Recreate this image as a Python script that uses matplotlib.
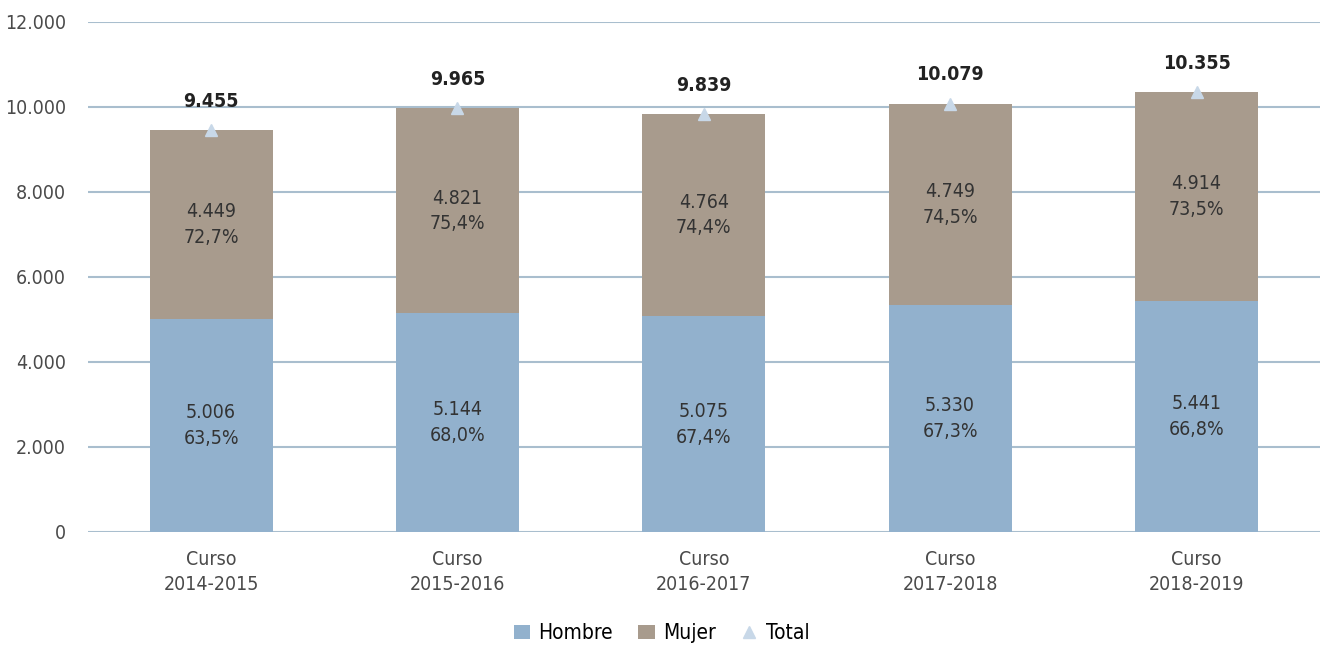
import matplotlib.pyplot as plt
import numpy as np

# ── Data ───────────────────────────────────────────────
cursos = ['Curso\n2014-2015', 'Curso\n2015-2016', 'Curso\n2016-2017',
          'Curso\n2017-2018', 'Curso\n2018-2019']
hombre = [5006, 5144, 5075, 5330, 5441]
mujer = [4449, 4821, 4764, 4749, 4914]
total = [9455, 9965, 9839, 10079, 10355]
pct_hombre = ['63,5%', '68,0%', '67,4%', '67,3%', '66,8%']
pct_mujer = ['72,7%', '75,4%', '74,4%', '74,5%', '73,5%']

plt.rcParams['font.family'] = ['DejaVu Sans']
plt.rcParams['font.stretch'] = 'condensed'

def fmt(v):
    return f'{v:,}'.replace(',', '.')

c_h = '#92b1cd'
c_m = '#a89b8d'
c_t = '#c8d8e8'
grid_c = '#a9bece'

fig = plt.figure(figsize=(13.23, 6.46), dpi=100)
ax = fig.add_axes([0.0665, 0.1765, 0.931, 0.7895])

x = np.arange(len(cursos))
b1 = ax.bar(x, hombre, width=0.5, color=c_h, label='Hombre', zorder=2)
b2 = ax.bar(x, mujer, width=0.5, bottom=hombre, color=c_m, label='Mujer', zorder=2)
ln, = ax.plot(x, total, linestyle='none', marker='^', markersize=9, color=c_t,
              label='Total', zorder=3)

for i in range(len(x)):
    ax.text(x[i], hombre[i] / 2, f'{fmt(hombre[i])}\n{pct_hombre[i]}',
            ha='center', va='center', fontsize=14, color='#333333',
            linespacing=1.45, zorder=4)
    ax.text(x[i], hombre[i] + mujer[i] / 2, f'{fmt(mujer[i])}\n{pct_mujer[i]}',
            ha='center', va='center', fontsize=14, color='#333333',
            linespacing=1.45, zorder=4)
    ax.text(x[i], total[i] + 450, fmt(total[i]), ha='center', va='bottom',
            fontsize=14, fontweight='bold', color='#222222', zorder=4)

ax.set_ylim(0, 12000)
ax.set_xlim(-0.5, len(x) - 0.5)
ax.set_yticks(range(0, 12001, 2000))
ax.set_yticklabels([fmt(v) for v in range(0, 12001, 2000)])
ax.set_xticks(x)
ax.set_xticklabels(cursos, linespacing=1.4)
ax.yaxis.grid(True, color=grid_c, linewidth=1.5, zorder=0)
ax.set_axisbelow(True)
for s in ax.spines.values():
    s.set_visible(False)
ax.tick_params(axis='both', length=0, labelsize=14, colors='#4a4a4a')
ax.tick_params(axis='y', pad=16)
ax.tick_params(axis='x', pad=13)

fig.legend(handles=[b1, b2, ln], loc='lower center', bbox_to_anchor=(0.5, -0.025),
           ncol=3, frameon=False, fontsize=15, handlelength=0.8,
           handletextpad=0.4, columnspacing=1.2)

fig.savefig('out.png', dpi=100)
